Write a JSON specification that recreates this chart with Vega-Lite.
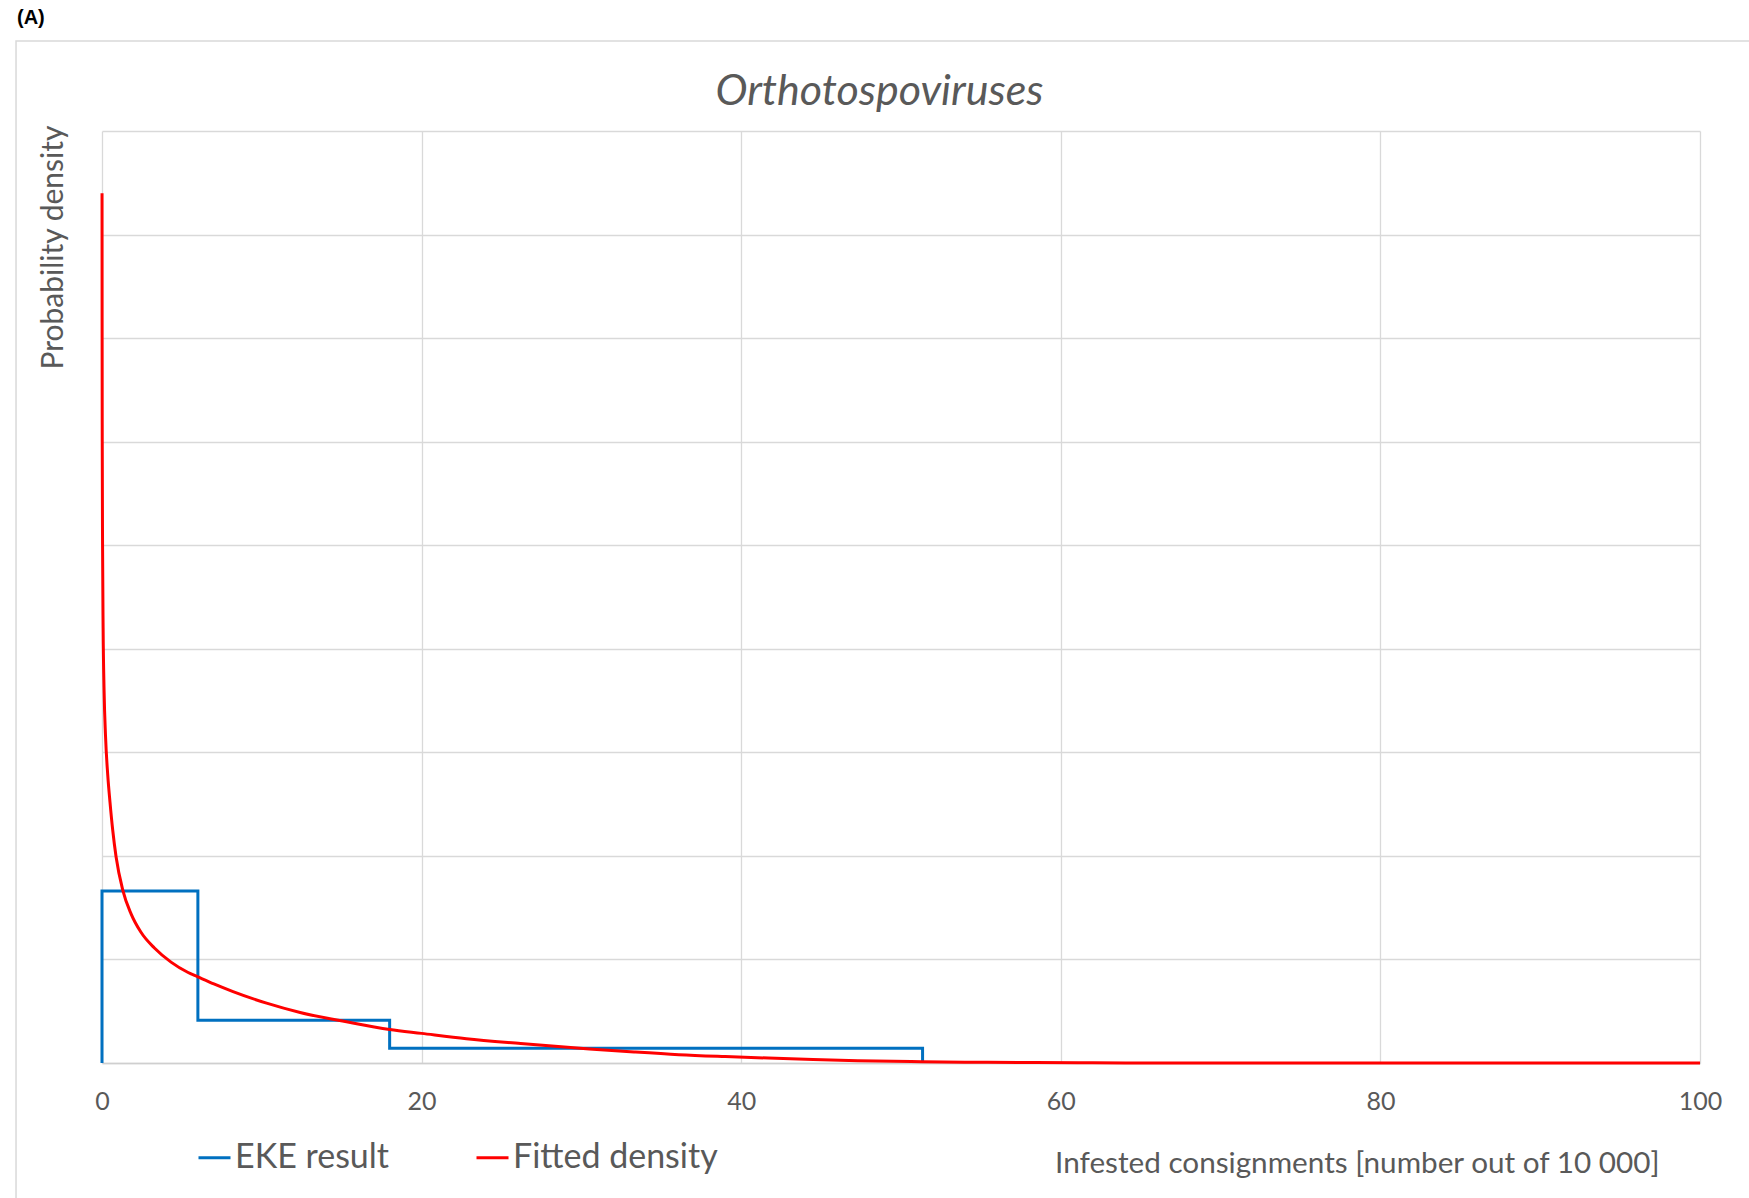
{
  "$schema": "https://vega.github.io/schema/vega-lite/v6.json",
  "width": 1598,
  "height": 932,
  "autosize": "none",
  "padding": {"left": 102, "top": 131, "right": 49, "bottom": 135},
  "background": "white",
  "config": {"view": {"stroke": null}, "font": "Lato"},
  "datasets": {
    "eke": [
      {"series": "EKE result", "order": 1, "x": 0, "y": 0},
      {"series": "EKE result", "order": 2, "x": 0, "y": 0.083},
      {"series": "EKE result", "order": 3, "x": 6, "y": 0.083},
      {"series": "EKE result", "order": 4, "x": 6, "y": 0.0206},
      {"series": "EKE result", "order": 5, "x": 18, "y": 0.0206},
      {"series": "EKE result", "order": 6, "x": 18, "y": 0.0071},
      {"series": "EKE result", "order": 7, "x": 51.35, "y": 0.0071},
      {"series": "EKE result", "order": 8, "x": 51.35, "y": 0}
    ],
    "fit": [
      {"series": "Fitted density", "order": 1, "x": 0.002, "y": 0.42},
      {"series": "Fitted density", "order": 2, "x": 0.006, "y": 0.36},
      {"series": "Fitted density", "order": 3, "x": 0.015, "y": 0.3},
      {"series": "Fitted density", "order": 4, "x": 0.035, "y": 0.25},
      {"series": "Fitted density", "order": 5, "x": 0.07, "y": 0.21},
      {"series": "Fitted density", "order": 6, "x": 0.13, "y": 0.18},
      {"series": "Fitted density", "order": 7, "x": 0.22, "y": 0.158},
      {"series": "Fitted density", "order": 8, "x": 0.36, "y": 0.139},
      {"series": "Fitted density", "order": 9, "x": 0.5, "y": 0.126},
      {"series": "Fitted density", "order": 10, "x": 0.67, "y": 0.1125},
      {"series": "Fitted density", "order": 11, "x": 0.88, "y": 0.0996},
      {"series": "Fitted density", "order": 12, "x": 1.3, "y": 0.0835},
      {"series": "Fitted density", "order": 13, "x": 1.82, "y": 0.072},
      {"series": "Fitted density", "order": 14, "x": 2.44, "y": 0.0631},
      {"series": "Fitted density", "order": 15, "x": 3.28, "y": 0.0555},
      {"series": "Fitted density", "order": 16, "x": 4.32, "y": 0.0487},
      {"series": "Fitted density", "order": 17, "x": 5.36, "y": 0.0438},
      {"series": "Fitted density", "order": 18, "x": 6.0, "y": 0.0416},
      {"series": "Fitted density", "order": 19, "x": 7.0, "y": 0.0382},
      {"series": "Fitted density", "order": 20, "x": 8.2, "y": 0.0345},
      {"series": "Fitted density", "order": 21, "x": 10.3, "y": 0.0289},
      {"series": "Fitted density", "order": 22, "x": 12.4, "y": 0.0244},
      {"series": "Fitted density", "order": 23, "x": 15.3, "y": 0.0199},
      {"series": "Fitted density", "order": 24, "x": 18.0, "y": 0.0162},
      {"series": "Fitted density", "order": 25, "x": 20.0, "y": 0.0143},
      {"series": "Fitted density", "order": 26, "x": 22.8, "y": 0.0117},
      {"series": "Fitted density", "order": 27, "x": 26.2, "y": 0.0094},
      {"series": "Fitted density", "order": 28, "x": 30.5, "y": 0.0068},
      {"series": "Fitted density", "order": 29, "x": 33.3, "y": 0.0053},
      {"series": "Fitted density", "order": 30, "x": 36.1, "y": 0.004},
      {"series": "Fitted density", "order": 31, "x": 39.0, "y": 0.0031},
      {"series": "Fitted density", "order": 32, "x": 41.7, "y": 0.0024},
      {"series": "Fitted density", "order": 33, "x": 44.5, "y": 0.0017},
      {"series": "Fitted density", "order": 34, "x": 47.3, "y": 0.0011},
      {"series": "Fitted density", "order": 35, "x": 51.3, "y": 0.0006},
      {"series": "Fitted density", "order": 36, "x": 54.0, "y": 0.0004},
      {"series": "Fitted density", "order": 37, "x": 58.4, "y": 0.0002},
      {"series": "Fitted density", "order": 38, "x": 62.0, "y": 0.0001},
      {"series": "Fitted density", "order": 39, "x": 66.0, "y": 0.00003},
      {"series": "Fitted density", "order": 40, "x": 70.0, "y": 0},
      {"series": "Fitted density", "order": 41, "x": 100.0, "y": 0}
    ]
  },
  "layer": [
    {
      "data": {"values": [{}]},
      "mark": {"type": "rect", "clip": false, "fill": null, "fillOpacity": 0, "stroke": "#d9d9d9", "strokeWidth": 1.5},
      "encoding": {
        "x": {"datum": -5.38, "type": "quantitative"},
        "x2": {"datum": 104.5},
        "y": {"datum": 0.4934, "type": "quantitative"},
        "y2": {"datum": -0.07}
      }
    },
    {
      "data": {"name": "eke"},
      "mark": {"type": "line", "strokeWidth": 3, "interpolate": "linear", "strokeJoin": "miter", "strokeCap": "butt"},
      "encoding": {
        "x": {
          "field": "x", "type": "quantitative",
          "scale": {"domain": [0, 100], "nice": false, "zero": false},
          "axis": {
            "title": "Infested consignments [number out of 10 000]",
            "values": [0, 20, 40, 60, 80, 100],
            "grid": true, "gridColor": "#d9d9d9", "gridWidth": 1.3,
            "ticks": false, "domain": true, "domainColor": "#cfcfcf", "domainWidth": 1.5,
            "labelFont": "Lato", "labelFontSize": 25, "labelColor": "#595959", "labelPadding": 26,
            "labelFlush": false, "labelOverlap": false,
            "titleFont": "Lato", "titleFontSize": 29.7, "titleFontWeight": "normal", "titleColor": "#595959",
            "titleX": 1557, "titleY": 100, "titleAlign": "right", "titleBaseline": "middle"
          }
        },
        "y": {
          "field": "y", "type": "quantitative",
          "scale": {"domain": [0, 0.45], "nice": false, "zero": true},
          "axis": {
            "title": "Probability density",
            "values": [0, 0.05, 0.1, 0.15, 0.2, 0.25, 0.3, 0.35, 0.4, 0.45],
            "grid": true, "gridColor": "#d9d9d9", "gridWidth": 1.3,
            "labels": false, "ticks": false, "domain": false,
            "titleFont": "Lato", "titleFontSize": 30, "titleFontWeight": "normal", "titleColor": "#595959",
            "titleAngle": -90, "titleX": -49, "titleY": -6, "titleAlign": "right", "titleBaseline": "middle"
          }
        },
        "color": {
          "field": "series", "type": "nominal",
          "scale": {"domain": ["EKE result", "Fitted density"], "range": ["#0070c0", "#ff0000"]},
          "legend": {
            "orient": "none", "legendX": 95, "legendY": 1009, "direction": "horizontal", "title": null,
            "symbolType": "stroke", "symbolSize": 1024, "symbolStrokeWidth": 3,
            "labelFont": "Lato", "labelFontSize": 34, "labelColor": "#595959", "labelOffset": 3, "labelLimit": 0,
            "columnPadding": 80
          }
        },
        "order": {"field": "order", "type": "quantitative"}
      }
    },
    {
      "data": {"name": "fit"},
      "mark": {"type": "line", "strokeWidth": 3, "interpolate": "monotone"},
      "encoding": {
        "x": {"field": "x", "type": "quantitative"},
        "y": {"field": "y", "type": "quantitative"},
        "color": {"field": "series", "type": "nominal"},
        "order": {"field": "order", "type": "quantitative"}
      }
    },
    {
      "data": {"values": [{}]},
      "mark": {"type": "text", "clip": false, "font": "Lato", "fontStyle": "italic", "fontSize": 43, "color": "#595959", "align": "center", "baseline": "alphabetic"},
      "encoding": {
        "x": {"datum": 48.65, "type": "quantitative"},
        "y": {"datum": 0.4624, "type": "quantitative"},
        "text": {"value": "Orthotospoviruses"}
      }
    },
    {
      "data": {"values": [{}]},
      "mark": {"type": "text", "clip": false, "font": "Liberation Sans", "fontWeight": "bold", "fontSize": 20, "color": "#000000", "align": "center", "baseline": "middle"},
      "encoding": {
        "x": {"datum": -4.45, "type": "quantitative"},
        "y": {"datum": 0.5045, "type": "quantitative"},
        "text": {"value": "(A)"}
      }
    }
  ]
}
